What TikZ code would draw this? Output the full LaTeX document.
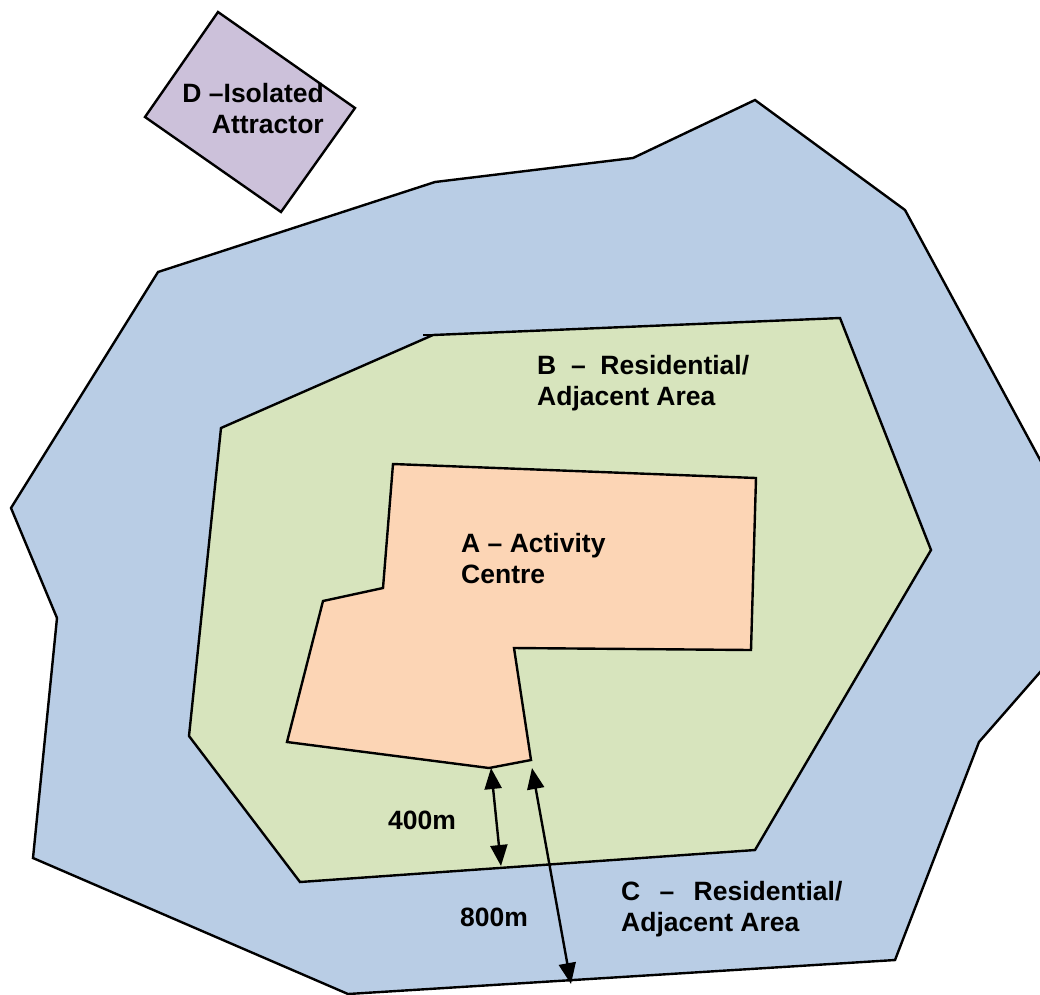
\documentclass[tikz,border=0pt]{standalone}
\usepackage{fontspec}
\setmainfont{Liberation Sans}
\usetikzlibrary{arrows.meta}
\definecolor{zoneC}{HTML}{B9CDE5}
\definecolor{zoneB}{HTML}{D7E4BD}
\definecolor{zoneA}{HTML}{FCD5B5}
\definecolor{zoneD}{HTML}{CCC1DA}
\begin{document}
\begin{tikzpicture}[x=1pt,y=-1pt,
  zone/.style={draw=black,line width=2.4pt,line join=miter},
  lbl/.style={font=\bfseries\fontsize{26.5}{31}\selectfont,inner sep=0pt,align=left,anchor=base west},
  tip/.tip={Triangle[length=21pt 0 0,width=17pt 0 0]},
  dist/.style={tip-tip,line width=2.4pt}]
\useasboundingbox (0,0) rectangle (1040,994);
\clip (0,0) rectangle (1040,994);
% C zone
\draw[zone,fill=zoneC] (158,272) -- (435,182) -- (633,158) -- (755,100) -- (905,210) -- (1111,591)
  -- (979,742) -- (895,960) -- (348,994) -- (33,858) -- (57,618) -- (11,508) -- cycle;
% B zone
\draw[zone,fill=zoneB] (221,428) -- (433,335) -- (840,318) -- (931,550) -- (755,850) -- (300,882) -- (189,736) -- cycle;
\draw[line width=2.4pt] (423,335) -- (434,335);
% A zone
\draw[zone,fill=zoneA] (393,464) -- (756,478) -- (751,650) -- (514,648) -- (531,760) -- (489,768)
  -- (287,742) -- (323,601) -- (383,588) -- cycle;
% D box
\draw[zone,fill=zoneD] (218,12) -- (355,108) -- (281,212) -- (145,117) -- cycle;
% distance arrows
\coordinate (a4top) at (491,768);
\coordinate (a4bot) at (501,866);
\coordinate (a8top) at (532,768);
\coordinate (a8bot) at (571,984);
\draw[dist] (a4top) -- (a4bot);
\draw[dist] (a8top) -- (a8bot);
% labels (base anchor = baseline of last line)
\node[lbl] (labB) at (537,405.5) {B\hspace{14.7pt}–\hspace{14.7pt}Residential/\\Adjacent Area};
\node[lbl] (labA) at (461,583.5) {A – Activity\\Centre};
\node[lbl] (labC) at (621,931.5) {C\hspace{19.3pt}–\hspace{19.3pt}Residential/\\Adjacent Area};
\node[lbl,align=right,anchor=base east] (labD) at (324,133.5) {D –Isolated\\Attractor};
\node[lbl] (l400) at (388,829.5) {400m};
\node[lbl] (l800) at (460,926.5) {800m};
\end{tikzpicture}
\end{document}
